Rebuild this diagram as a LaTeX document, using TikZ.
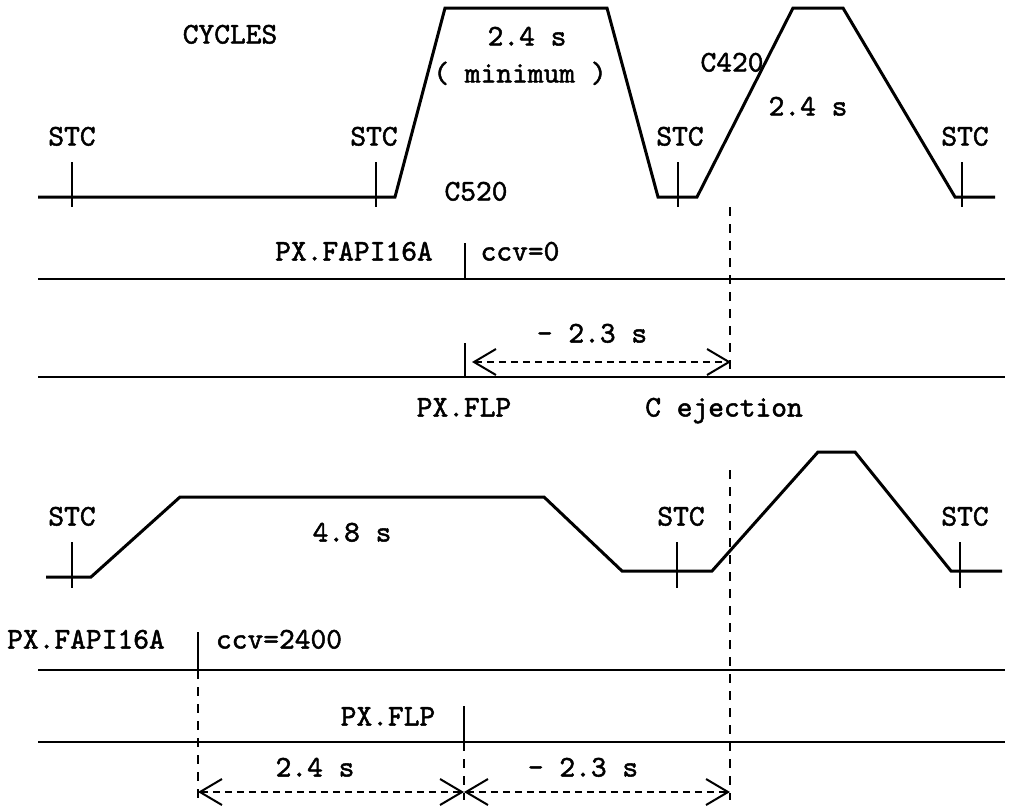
\documentclass[tikz,border=0pt]{standalone}
\usepackage{fontspec}
\setmonofont{lmmono10-regular}[Extension=.otf, FakeBold=1.6]
\usetikzlibrary{arrows.meta}
\begin{document}
\begin{tikzpicture}[x=1pt,y=-1pt,
  lbl/.style={font=\fontsize{30}{34}\ttfamily, inner sep=0pt, text height=17pt, text depth=0pt, anchor=center},
  wave/.style={line width=3pt, line join=miter},
  track/.style={line width=2.4pt},
  tickline/.style={line width=1.5pt},
  guide/.style={line width=1.2pt, dash pattern=on 9pt off 8pt},
  tipb/.tip={Straight Barb[length=22pt,width=26pt,line width=2pt]},
  dim/.style={line width=1.6pt, dash pattern=on 7pt off 5pt, tipb-tipb}]
\useasboundingbox (0,0) rectangle (1032,807);

% ---------- Row 1: cycles ----------
\node[lbl] (cycles) at (230,35) {CYCLES};
\draw[wave] (38,197) -- (395,197) -- (445,8) -- (607,8) -- (658,197) -- (697,197)
  -- (793,8) -- (843,8) -- (955,197) -- (995,197);
\foreach \x/\n in {72/a,376/b,678/c,962/d}{
  \coordinate (t1\n top) at (\x,162);
  \coordinate (t1\n bot) at (\x,207);
  \draw[tickline] (t1\n top) -- (t1\n bot);
}
\node[lbl] (stc1a) at (72,137) {STC};
\node[lbl] (stc1b) at (374,137) {STC};
\node[lbl] (stc1c) at (680,137) {STC};
\node[lbl] (stc1d) at (965,137) {STC};
\node[lbl] (t24a) at (527,37) {2.4 s};
\node[lbl] (tmin) at (520,74) {( minimum )};
\node[lbl] (c520) at (476,192) {C520};
\node[lbl] (c420) at (732,63) {C420};
\node[lbl] (t24b) at (808,107) {2.4 s};

% ---------- Row 2 / 3 ----------
\coordinate (r2l) at (38,279);
\coordinate (r2r) at (1005,279);
\draw[track] (r2l) -- (r2r);
\coordinate (k2top) at (465,243);
\coordinate (k2bot) at (465,279);
\draw[tickline] (k2top) -- (k2bot);
\node[lbl] (fapia) at (354,252) {PX.FAPI16A};
\node[lbl] (ccva) at (520,252) {ccv=0};

\coordinate (r3l) at (38,377);
\coordinate (r3r) at (1005,377);
\draw[track] (r3l) -- (r3r);
\coordinate (k3top) at (465,343);
\coordinate (k3bot) at (465,377);
\draw[tickline] (k3top) -- (k3bot);
\coordinate (ejtop) at (730,207);
\coordinate (ejbot) at (730,370);
\draw[guide] (ejtop) -- (ejbot);
\coordinate (da1) at (472,362);
\coordinate (da2) at (731,362);
\draw[dim] (da1) -- (da2);
\node[lbl] (m23a) at (592,334) {- 2.3 s};
\node[lbl] (flpa) at (464,408) {PX.FLP};
\node[lbl] (ceject) at (724,408) {C ejection};

% ---------- Row 4: cycles ----------
\draw[wave] (46,577) -- (91,577) -- (180,497) -- (544,497) -- (622,571) -- (712,571)
  -- (818,452) -- (855,452) -- (951,571) -- (1002,571);
\foreach \x/\n in {72/a,677/b,960/c}{
  \coordinate (t4\n top) at (\x,542);
  \coordinate (t4\n bot) at (\x,588);
  \draw[tickline] (t4\n top) -- (t4\n bot);
}
\node[lbl] (stc4a) at (72,517) {STC};
\node[lbl] (stc4b) at (681,517) {STC};
\node[lbl] (stc4c) at (965,517) {STC};
\node[lbl] (t48) at (352,533) {4.8 s};

% ---------- Rows 5 / 6 ----------
\coordinate (r5l) at (38,670);
\coordinate (r5r) at (1005,670);
\draw[track] (r5l) -- (r5r);
\coordinate (k5top) at (198,632);
\coordinate (k5bot) at (198,670);
\draw[tickline] (k5top) -- (k5bot);
\node[lbl] (fapib) at (86,640) {PX.FAPI16A};
\node[lbl] (ccvb) at (279,640) {ccv=2400};

\coordinate (r6l) at (38,742);
\coordinate (r6r) at (1005,742);
\draw[track] (r6l) -- (r6r);
\coordinate (k6top) at (464,706);
\coordinate (k6bot) at (464,742);
\draw[tickline] (k6top) -- (k6bot);
\node[lbl] (flpb) at (388,717) {PX.FLP};

\coordinate (g1top) at (198,670);
\coordinate (g1bot) at (198,800);
\coordinate (g2top) at (464,742);
\coordinate (g2bot) at (464,800);
\coordinate (g3top) at (730,470);
\coordinate (g3bot) at (730,800);
\draw[guide] (g1top) -- (g1bot);
\draw[guide] (g2top) -- (g2bot);
\draw[guide] (g3top) -- (g3bot);

\coordinate (db1) at (198,792);
\coordinate (db2) at (464,792);
\coordinate (db3) at (730,792);
\draw[dim] (db1) -- (db2);
\draw[dim] (db2) -- (db3);
\node[lbl] (t24c) at (315,768) {2.4 s};
\node[lbl] (m23b) at (583,768) {- 2.3 s};
\end{tikzpicture}
\end{document}
